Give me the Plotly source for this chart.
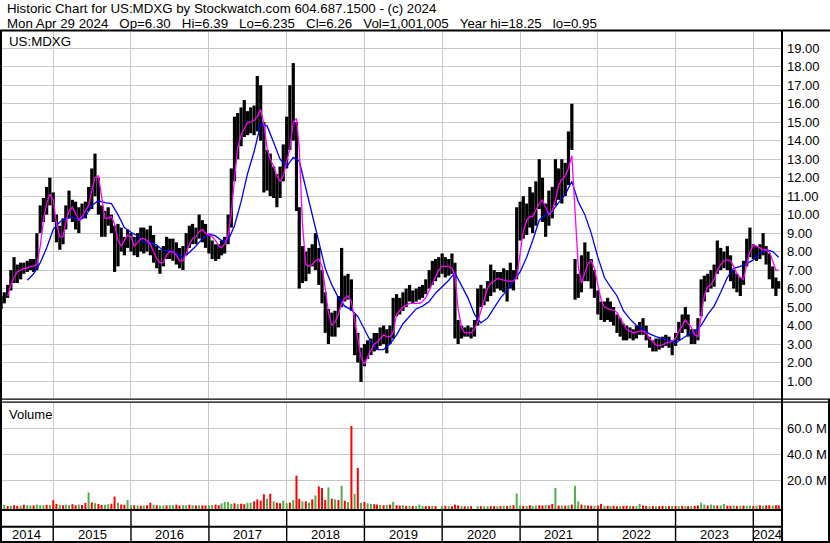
import plotly.graph_objects as go
import pandas as pd

# ---------------- data ----------------
# semi-monthly sample dates (1st and 16th of each month), last = final trading day
dates = []
_m0 = 2014 * 12 + 4
for k in range(240):
    m = _m0 + k // 2
    dates.append(f"{m // 12:04d}-{m % 12 + 1:02d}-{1 if k % 2 == 0 else 16:02d}")
dates.append("2024-04-29")

high = [
    5.6, 5.8, 6.2, 7.0, 7.7, 7.3, 7.4, 7.4, 7.5, 7.6,
    7.6, 9.0, 10.5, 10.9, 11.5, 12.0, 11.2, 10.0, 9.4, 9.8,
    10.5, 11.3, 10.8, 10.7, 10.4, 10.6, 10.7, 11.5, 12.5, 13.3,
    12.0, 10.5, 10.2, 10.4, 10.0, 9.4, 9.5, 9.3, 8.8, 9.2,
    9.0, 8.8, 9.0, 9.3, 9.3, 9.2, 9.4, 8.9, 8.3, 8.1,
    8.3, 8.8, 8.7, 8.7, 8.5, 8.2, 8.3, 9.0, 9.4, 9.5,
    9.3, 10.0, 9.7, 9.5, 8.9, 8.6, 8.4, 8.4, 8.6, 8.8,
    10.0, 12.5, 15.3, 15.5, 15.8, 16.2, 15.6, 15.8, 15.9, 17.5,
    17.0, 15.0, 13.5, 13.3, 12.6, 12.2, 12.6, 13.8, 15.3, 17.0,
    18.2, 15.0, 10.4, 8.3, 8.0, 8.2, 8.4, 9.0, 8.2, 7.0,
    5.8, 4.9, 4.7, 4.8, 5.6, 8.2, 6.7, 6.8, 6.5, 4.6,
    3.6, 2.8, 3.0, 3.2, 3.3, 3.6, 3.6, 3.9, 4.0, 3.8,
    4.0, 5.5, 5.7, 5.5, 5.8, 6.0, 6.2, 5.9, 6.0, 6.1,
    6.2, 6.5, 7.0, 7.5, 7.6, 7.7, 7.9, 7.7, 7.6, 7.9,
    7.4, 4.3, 4.0, 3.9, 4.0, 3.9, 4.3, 6.0, 6.2, 6.0,
    6.4, 7.3, 7.0, 6.9, 6.9, 7.1, 7.0, 7.4, 7.0, 10.4,
    10.7, 11.0, 10.6, 11.5, 11.2, 11.8, 13.0, 12.0, 10.6, 11.3,
    11.5, 13.0, 12.5, 13.0, 12.8, 14.5, 16.0, 7.6, 6.8, 7.8,
    8.5, 8.0, 7.6, 7.0, 5.9, 5.3, 5.3, 5.5, 5.3, 5.0,
    4.6, 4.4, 4.1, 4.0, 3.9, 3.8, 4.0, 4.2, 4.4, 4.0,
    3.4, 3.2, 3.3, 3.3, 3.4, 3.5, 3.4, 3.2, 3.6, 4.2,
    4.6, 5.0, 4.6, 3.8, 3.8, 4.4, 6.5, 6.7, 6.8, 7.0,
    7.3, 8.6, 8.2, 8.0, 8.3, 7.8, 7.0, 6.8, 6.6, 7.5,
    8.7, 9.3, 8.4, 8.3, 8.4, 9.0, 8.3, 7.9, 7.2, 6.6,
    6.4,
]

low = [
    4.9, 5.2, 5.5, 5.9, 6.3, 6.3, 6.5, 6.8, 6.9, 7.0,
    6.9, 7.0, 9.0, 9.6, 10.0, 10.5, 9.6, 8.5, 8.1, 8.4,
    9.2, 9.8, 9.6, 9.2, 9.0, 9.8, 9.8, 10.2, 10.3, 11.0,
    10.0, 8.8, 8.8, 9.4, 9.0, 6.9, 7.2, 8.0, 7.8, 8.2,
    8.0, 7.8, 7.7, 8.0, 7.9, 8.0, 7.8, 7.4, 7.1, 6.8,
    7.2, 7.6, 7.6, 7.5, 7.3, 7.1, 7.0, 7.8, 8.2, 8.4,
    8.4, 8.7, 8.5, 8.2, 7.9, 7.6, 7.5, 7.6, 7.8, 7.9,
    8.4, 9.3, 11.8, 13.0, 13.7, 14.2, 14.3, 14.4, 14.3, 14.5,
    14.0, 11.2, 11.3, 11.0, 10.9, 10.4, 10.9, 11.8, 12.5, 13.5,
    14.0, 10.2, 6.0, 6.3, 6.4, 6.8, 7.2, 7.0, 6.2, 5.2,
    3.6, 3.0, 3.4, 3.4, 3.9, 5.0, 5.3, 5.4, 4.8, 2.4,
    2.0, 0.95, 1.8, 2.2, 2.4, 2.6, 2.7, 2.9, 3.0, 2.5,
    3.0, 3.3, 4.5, 4.6, 4.8, 5.0, 5.3, 5.2, 5.3, 5.4,
    5.5, 5.7, 6.0, 6.2, 6.4, 6.6, 6.8, 6.6, 6.7, 6.8,
    3.3, 3.0, 3.3, 3.4, 3.4, 3.3, 3.4, 4.0, 5.0, 5.1,
    5.3, 5.6, 5.8, 6.0, 5.9, 5.8, 5.3, 6.0, 5.9, 6.5,
    8.6, 8.7, 8.9, 9.3, 9.0, 9.4, 10.3, 9.6, 8.8, 9.4,
    9.8, 10.5, 10.8, 10.6, 11.0, 11.6, 13.5, 5.4, 5.5, 5.8,
    6.4, 6.4, 6.0, 5.5, 4.6, 4.3, 4.2, 4.3, 4.2, 4.0,
    3.6, 3.4, 3.2, 3.2, 3.3, 3.2, 3.3, 3.5, 3.5, 3.2,
    2.8, 2.6, 2.6, 2.7, 2.8, 2.9, 2.8, 2.4, 2.9, 3.2,
    3.6, 3.8, 3.4, 3.0, 3.0, 3.2, 4.5, 5.3, 5.8, 6.0,
    6.1, 6.8, 7.0, 7.1, 7.0, 6.4, 6.0, 5.8, 5.6, 6.2,
    7.2, 7.7, 7.6, 7.5, 7.6, 7.8, 7.3, 6.5, 6.0, 5.6,
    6.0,
]

# short moving average (magenta), same dates
ma_fast = [
    None, None, 5.6, 6.2, 6.6, 6.9, 7.0, 7.1, 7.1, 7.2,
    7.2, 7.3, 8.3, 9.7, 10.6, 11.1, 10.8, 9.5, 8.8, 8.8,
    9.6, 10.2, 10.4, 10.0, 9.7, 9.9, 10.2, 10.5, 11.3, 12.0,
    12.1, 11.0, 9.8, 9.8, 9.9, 9.5, 8.6, 8.3, 8.6, 8.9,
    8.8, 8.3, 8.5, 8.7, 8.7, 8.6, 8.4, 8.0, 7.6, 7.4,
    7.4, 7.8, 8.0, 8.0, 7.8, 7.5, 7.5, 7.9, 8.4, 8.7,
    8.8, 9.1, 9.2, 9.0, 8.9, 8.8, 8.6, 8.3, 8.2, 8.4,
    8.9, 10.0, 12.0, 13.6, 14.3, 14.7, 15.0, 15.0, 15.1, 15.3,
    15.7, 14.9, 13.6, 13.0, 12.6, 12.1, 11.8, 12.1, 12.8, 13.6,
    15.0, 15.2, 13.6, 9.5, 7.3, 7.2, 7.3, 7.5, 7.6, 7.2,
    6.0, 4.7, 4.0, 4.2, 4.6, 5.2, 5.5, 5.6, 5.3, 4.2,
    3.3, 2.3, 1.9, 2.3, 2.7, 3.0, 3.1, 3.3, 3.5, 3.4,
    3.4, 3.6, 4.6, 4.8, 5.0, 5.1, 5.2, 5.2, 5.2, 5.2,
    5.3, 5.5, 5.9, 6.3, 6.6, 7.0, 7.2, 7.2, 7.2, 7.1,
    6.7, 4.9, 3.9, 3.6, 3.6, 3.6, 3.8, 4.2, 4.8, 5.4,
    6.0, 6.3, 6.4, 6.55, 6.5, 6.45, 6.4, 6.4, 6.4, 6.6,
    8.0, 9.1, 9.7, 9.9, 9.9, 10.2, 10.6, 10.8, 10.4, 10.0,
    10.2, 10.8, 11.6, 11.9, 12.1, 12.5, 13.2, 10.5, 7.2, 6.3,
    6.9, 7.35, 7.5, 7.1, 6.2, 5.4, 5.0, 4.9, 4.85, 4.85,
    4.7, 4.4, 4.1, 3.8, 3.7, 3.6, 3.65, 3.7, 3.7, 3.6,
    3.3, 3.1, 2.95, 2.9, 2.95, 3.05, 3.1, 3.15, 3.3, 3.7,
    4.0, 4.3, 4.1, 3.9, 3.5, 3.4, 4.5, 5.6, 6.1, 6.2,
    6.5, 7.0, 7.3, 7.5, 7.55, 7.5, 7.2, 6.8, 6.6, 6.5,
    7.3, 8.0, 8.35, 8.3, 8.2, 8.1, 8.1, 8.0, 7.5, 7.0,
    7.0,
]

# long moving average (blue), on the 1st-of-month dates from Sep 2014 on
ma_slow_dates = dates[8::2]
ma_slow = [
    6.45, 6.8, 7.4, 8.2, 9.2, 9.6, 9.8, 9.85, 9.7, 9.9,
    10.5, 10.75, 10.65, 10.6, 10.0, 9.3, 9.05, 8.85, 8.5, 8.5,
    8.35, 8.05, 8.05, 7.9, 7.7, 7.95, 8.3, 8.7, 8.95, 8.85,
    8.6, 8.6, 9.4, 10.7, 12.2, 13.4, 14.9, 14.8, 13.9, 13.0,
    12.6, 13.1, 12.9, 11.4, 10.1, 8.6, 7.1, 6.2, 5.5, 5.05,
    4.85, 4.5, 3.8, 3.1, 2.7, 2.7, 3.0, 3.5, 4.1, 4.5,
    4.9, 5.05, 5.3, 5.75, 6.1, 6.45, 6.85, 6.2, 5.5, 4.6,
    4.15, 4.4, 5.0, 5.5, 5.9, 6.45, 6.9, 7.7, 8.6, 9.7,
    10.0, 10.2, 10.65, 11.1, 11.8, 10.7, 10.0, 9.0, 7.7, 6.6,
    6.1, 5.6, 4.8, 4.35, 4.0, 3.8, 3.55, 3.4, 3.3, 3.2,
    3.05, 3.3, 3.5, 3.65, 4.0, 4.6, 5.05, 5.8, 6.6, 7.1,
    7.2, 7.35, 7.55, 7.9, 8.1, 8.0, 7.7,
]

# volume in millions of shares, and whether the period closed up (u) or down (d)
volume_m = [
    1.5, 1.2, 0.4, 0.6, 1.0, 0.5, 0.7, 1.4, 1.0, 0.8,
    0.9, 1.5, 1.2, 1.0, 1.3, 1.2, 4.9, 2.0, 1.3, 1.0,
    1.5, 1.2, 1.8, 1.0, 1.5, 1.2, 2.8, 10.8, 3.2, 2.6,
    2.0, 1.2, 1.4, 1.8, 2.2, 7.7, 3.0, 1.5, 1.4, 4.9,
    1.0, 1.0, 0.8, 0.6, 0.8, 1.0, 3.0, 1.4, 1.0, 0.8,
    0.8, 0.9, 1.2, 1.0, 1.5, 0.8, 1.1, 1.0, 1.4, 1.0,
    0.8, 1.0, 0.9, 0.8, 1.0, 1.2, 1.5, 1.0, 2.4, 3.6,
    3.6, 2.0, 2.5, 1.8, 2.2, 1.8, 2.8, 3.0, 4.0, 5.5,
    4.5, 9.5, 6.0, 9.8, 4.0, 3.0, 2.5, 4.5, 2.5, 3.0,
    5.0, 23.8, 5.9, 4.0, 4.0, 3.0, 5.5, 8.5, 15.5, 14.2,
    5.0, 14.7, 6.0, 5.5, 5.0, 16.0, 4.5, 3.5, 62.0, 9.8,
    29.7, 3.0, 3.5, 2.5, 2.0, 1.8, 1.5, 1.2, 1.0, 1.2,
    1.5, 3.6, 1.0, 0.8, 1.0, 0.5, 0.6, 0.4, 0.3, 1.5,
    0.4, 0.3, 0.3, 0.4, 0.3, 0.0, 0.4, 0.6, 0.3, 0.2,
    1.5, 0.8, 0.3, 0.2, 0.2, 0.3, 0.0, 0.3, 0.3, 0.2,
    0.2, 0.3, 0.3, 0.2, 0.3, 0.6, 0.5, 0.8, 1.0, 10.0,
    0.8, 0.5, 0.4, 1.0, 0.5, 0.8, 1.0, 0.8, 1.2, 1.0,
    2.0, 14.2, 0.8, 0.8, 0.6, 1.0, 1.5, 16.0, 4.0, 1.5,
    1.0, 0.8, 0.6, 0.5, 0.6, 2.0, 0.5, 0.6, 0.4, 0.5,
    0.3, 0.4, 0.5, 0.6, 0.4, 0.3, 0.4, 2.0, 0.8, 0.4,
    0.3, 0.4, 0.3, 0.3, 0.5, 0.3, 0.4, 0.5, 0.4, 0.3,
    0.4, 0.3, 0.3, 0.4, 0.5, 0.8, 3.0, 1.5, 0.8, 1.5,
    1.0, 0.8, 0.9, 2.0, 0.8, 0.6, 0.8, 0.5, 0.6, 0.8,
    0.6, 0.8, 0.5, 0.8, 1.0, 0.6, 0.8, 1.0, 0.8, 1.0,
    1.0,
]
vol_dir = "".join([
    "uudu dduduu", "duuududdud", "uudduddudu", "dduudduddu", "udududdudu",
    "uduudduudu", "dudduudduu", "uududduudd", "ddududduud", "uddudududd",
    "dududududu", "duduuddudu", "duddududuu", "udduddudud", "ddududuudu",
    "uddudududu", "ududuuddud", "dudududuud", "udduddudud", "dudduduudd",
    "ududdududu", "dududduudu", "uduuddudud", "uudududdud", "d",
]).replace(" ", "")

years = list(range(2014, 2025))
year_labels = [str(y) for y in years]
price_ticks = list(range(1, 20))
vol_ticks_m = [20, 40, 60]

# ---------------- styling constants ----------------
W, H = 830, 543
GRID = "#c8c8c8"
FONT = "Arial, Liberation Sans, Helvetica, sans-serif"
X_START, X_END = "2014-04-26", "2024-05-10"
PLOT_R = 781  # px, right edge of plotting area
VOL_BASE = -1.9e6
HEAD_SIZE = 13.3


def px_x(p):
    return p / W


def px_y(p):
    return 1 - p / H


fig = go.Figure()

# price high-low bars
bx, by = [], []
for d, h, l in zip(dates, high, low):
    bx += [d, d, None]
    by += [l, h, None]
fig.add_trace(go.Scatter(x=bx, y=by, mode="lines", line=dict(color="black", width=3.2),
                         xaxis="x", yaxis="y", hoverinfo="skip"))
fig.add_trace(go.Scatter(x=ma_slow_dates, y=ma_slow, mode="lines",
                         line=dict(color="#0000ff", width=1.3), xaxis="x", yaxis="y", hoverinfo="skip"))
fig.add_trace(go.Scatter(x=dates, y=ma_fast, mode="lines",
                         line=dict(color="#ff00ff", width=1.3), xaxis="x", yaxis="y", hoverinfo="skip"))

# volume bars
for flag, col in (("u", "#4cb04c"), ("d", "#ff0000")):
    vx, vy = [], []
    for d, v, f in zip(dates, volume_m, vol_dir):
        if f == flag and v > 0:
            vx += [d, d, None]
            vy += [VOL_BASE, v * 1e6, None]
    fig.add_trace(go.Scatter(x=vx, y=vy, mode="lines", line=dict(color=col, width=2),
                             xaxis="x2", yaxis="y2", hoverinfo="skip"))

year_starts = [f"{y}-01-01" for y in years[1:]]

axis_common = dict(showline=False, zeroline=False, ticks="", showgrid=True,
                   gridcolor=GRID, gridwidth=1, automargin=False)

fig.update_layout(
    width=W, height=H, margin=dict(l=0, r=0, t=0, b=0, pad=0, autoexpand=False),
    paper_bgcolor="white", plot_bgcolor="white", showlegend=False,
    font=dict(family=FONT, size=13, color="black"),
    xaxis=dict(domain=[0, PLOT_R / W], range=[X_START, X_END], type="date",
               tickvals=year_starts, showticklabels=False, anchor="y", **axis_common),
    yaxis=dict(domain=[px_y(399), px_y(32)], range=[0.027, 19.88], side="right",
               tickvals=price_ticks, ticktext=[f"{v}.00" for v in price_ticks],
               ticklabelstandoff=5, anchor="x", **axis_common),
    xaxis2=dict(domain=[0, PLOT_R / W], range=[X_START, X_END], type="date",
                tickvals=year_starts, showticklabels=False, anchor="y2", matches="x", **axis_common),
    yaxis2=dict(domain=[px_y(509), px_y(402)], range=[VOL_BASE, 80.5e6], side="right",
                tickvals=[v * 1e6 for v in vol_ticks_m],
                ticktext=[f"{v}.0 M" for v in vol_ticks_m],
                ticklabelstandoff=5, anchor="x2", **axis_common),
)

shapes = []


def hline(y, x0, x1, w):
    shapes.append(dict(type="line", xref="paper", yref="paper", x0=px_x(x0), x1=px_x(x1),
                       y0=px_y(y), y1=px_y(y), line=dict(color="black", width=w), layer="above"))


def vline(x, y0, y1, w):
    shapes.append(dict(type="line", xref="paper", yref="paper", x0=px_x(x), x1=px_x(x),
                       y0=px_y(y0), y1=px_y(y1), line=dict(color="black", width=w), layer="above"))


hline(30.5, 0, W, 2)
hline(399.2, 0, W, 1.2)
hline(402.2, 0, W, 1.2)
hline(510, 0, PLOT_R + 2, 2)
hline(526.8, 0, PLOT_R + 2, 2)
hline(542, 0, W, 2)
vline(1, 30, H, 2)
vline(PLOT_R + 1, 30, H, 2)
vline(W - 1, 399, H, 2)
for ys in year_starts:
    shapes.append(dict(type="line", xref="x", yref="paper", x0=ys, x1=ys,
                       y0=px_y(542), y1=px_y(510), line=dict(color="black", width=1.4), layer="above"))
fig.update_layout(shapes=shapes)

NB = "\u00a0"
SEP = NB * 3
header1 = "Historic Chart for US:MDXG by Stockwatch.com 604.687.1500 - (c) 2024"
header2 = SEP.join(["Mon Apr 29 2024", "Op=6.30", "Hi=6.39", "Lo=6.235", "Cl=6.26",
                    "Vol=1,001,005", "Year hi=18.25", "lo=0.95"])

ann = [
    dict(text=header1, x=px_x(5), y=px_y(8.5), size=HEAD_SIZE),
    dict(text=header2, x=px_x(5), y=px_y(23.5), size=HEAD_SIZE),
    dict(text="US:MDXG", x=px_x(7), y=px_y(41.5), size=HEAD_SIZE),
    dict(text="Volume", x=px_x(7), y=px_y(414), size=13),
]
annotations = []
for a in ann:
    sz = a.pop("size")
    annotations.append(dict(xref="paper", yref="paper", xanchor="left", yanchor="middle",
                            showarrow=False, font=dict(size=sz, family=FONT, color="black"), **a))

bounds = [pd.Timestamp(X_START)] + [pd.Timestamp(s) for s in year_starts] + [pd.Timestamp(X_END)]
for lab, a, b in zip(year_labels, bounds[:-1], bounds[1:]):
    mid = a + (b - a) / 2
    annotations.append(dict(text=lab, xref="x", yref="paper", x=mid.strftime("%Y-%m-%d %H:%M"),
                            y=px_y(534.5), xanchor="center", yanchor="middle", showarrow=False,
                            font=dict(size=13, family=FONT, color="black")))
fig.update_layout(annotations=annotations)

fig.write_html("out.html", config={"displayModeBar": False},
               post_script="document.body.style.margin='0px';document.body.style.overflow='hidden';")
